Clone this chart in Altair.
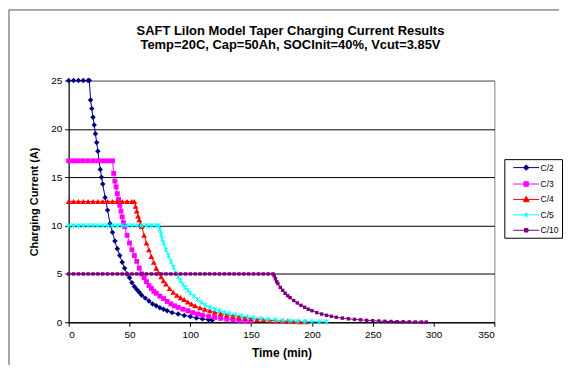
import altair as alt
import pandas as pd

series_names = ["C/2", "C/3", "C/4", "C/5", "C/10"]
series_colors = ["#000080", "#FF00FF", "#FF0000", "#00FFFF", "#800080"]

# C/2
t_c2 = [0, 4, 8, 12, 16, 17, 18, 19, 20, 21, 22, 23, 24, 25, 26, 27, 28, 30, 32, 34, 36, 38, 40,
        42, 44, 46, 48, 50, 52, 54, 56, 58, 60, 63, 66, 69, 72, 75, 78, 81, 85, 90, 95, 100,
        105, 110, 115, 118]
i_c2 = [25, 25, 25, 25, 25, 25, 23.0, 22.1, 21.2, 20.4, 19.5, 18.6, 17.7, 16.7, 15.8, 15.0, 14.3,
        12.9, 11.6, 10.2, 9.3, 8.4, 7.6, 6.9, 6.2, 5.6, 5.0, 4.6, 4.1, 3.7, 3.4, 3.1, 2.8, 2.5,
        2.2, 1.9, 1.7, 1.5, 1.35, 1.2, 1.0, 0.85, 0.7, 0.6, 0.45, 0.35, 0.25, 0.2]

# C/3
t_c3 = [0, 4, 8, 12, 16, 20, 24, 28, 32, 36, 37, 38, 39, 40, 41, 42, 43, 44, 45, 46, 48, 50, 52,
        54, 56, 58, 60, 62, 64, 66, 68, 70, 72, 75, 78, 81, 84, 87, 90, 94, 98, 102, 106, 110,
        115, 120, 125, 130, 135, 140, 145, 150]
i_c3 = [16.7, 16.7, 16.7, 16.7, 16.7, 16.7, 16.7, 16.7, 16.7, 16.7, 15.4, 14.6, 14.0, 13.3, 12.7,
        12.1, 11.5, 10.9, 10.3, 9.9, 9.0, 8.2, 7.5, 6.9, 6.3, 5.6, 5.0, 4.6, 4.2, 3.8, 3.5, 3.2,
        3.0, 2.7, 2.45, 2.15, 1.9, 1.7, 1.55, 1.35, 1.2, 1.0, 0.85, 0.75, 0.6, 0.5, 0.4, 0.32,
        0.25, 0.2, 0.15, 0.12]

# C/4
t_c4 = [0, 4, 8, 12, 16, 20, 24, 28, 32, 36, 40, 44, 48, 52, 54, 55, 56, 57, 58, 59, 60, 62, 64,
        66, 68, 70, 72, 74, 76, 78, 80, 83, 86, 89, 92, 95, 98, 101, 104, 108, 112, 116, 120,
        125, 130, 135, 140, 145, 150, 155, 160, 165, 170, 175, 180, 185, 190, 195]
i_c4 = [12.5, 12.5, 12.5, 12.5, 12.5, 12.5, 12.5, 12.5, 12.5, 12.5, 12.5, 12.5, 12.5, 12.5, 12.5,
        12.0, 11.5, 11.0, 10.6, 10.2, 9.9, 9.0, 8.2, 7.5, 6.8, 6.2, 5.6, 5.1, 4.7, 4.3, 3.95,
        3.5, 3.1, 2.8, 2.55, 2.35, 2.1, 1.9, 1.7, 1.5, 1.35, 1.2, 1.05, 0.9, 0.75, 0.65, 0.55,
        0.45, 0.38, 0.3, 0.25, 0.2, 0.16, 0.13, 0.1, 0.08, 0.06, 0.05]

# C/5
t_c5 = [0, 4, 8, 12, 16, 20, 24, 28, 32, 36, 40, 44, 48, 52, 56, 60, 64, 68, 72, 74, 75, 76, 77,
        78, 80, 82, 84, 86, 88, 90, 92, 94, 96, 98, 100, 103, 106, 109, 112, 116, 120, 124, 128,
        132, 137, 142, 147, 152, 158, 164, 170, 176, 182, 188, 194, 200, 206, 212]
i_c5 = [10, 10, 10, 10, 10, 10, 10, 10, 10, 10, 10, 10, 10, 10, 10, 10, 10, 10, 10, 10, 9.6, 9.1,
        8.6, 8.2, 7.5, 6.9, 6.3, 5.7, 5.1, 4.7, 4.3, 3.9, 3.6, 3.3, 3.0, 2.7, 2.35, 2.05, 1.8,
        1.55, 1.35, 1.2, 1.0, 0.9, 0.75, 0.65, 0.55, 0.45, 0.38, 0.3, 0.24, 0.19, 0.15, 0.12,
        0.1, 0.08, 0.06, 0.05]

# C/10
t_c10 = [0, 4, 8, 12, 16, 20, 24, 28, 32, 36, 40, 44, 48, 52, 56, 60, 64, 68, 72, 76, 80, 84, 88,
         92, 96, 100, 104, 108, 112, 116, 120, 124, 128, 132, 136, 140, 144, 148, 152, 156, 160,
         164, 168, 169, 170, 171, 172, 174, 176, 178, 180, 182, 185, 188, 191, 194, 197, 200,
         204, 208, 212, 216, 220, 225, 230, 235, 240, 245, 250, 255, 260, 265, 270, 275, 280,
         285, 290, 294]
i_c10 = [5, 5, 5, 5, 5, 5, 5, 5, 5, 5, 5, 5, 5, 5, 5, 5, 5, 5, 5, 5, 5, 5, 5, 5, 5, 5, 5, 5, 5, 5,
         5, 5, 5, 5, 5, 5, 5, 5, 5, 5, 5, 5, 5, 4.8, 4.5, 4.2, 4.0, 3.6, 3.3, 3.0, 2.75, 2.55,
         2.25, 2.0, 1.75, 1.55, 1.35, 1.2, 1.0, 0.85, 0.72, 0.62, 0.52, 0.43, 0.36, 0.3, 0.25,
         0.2, 0.16, 0.13, 0.1, 0.08, 0.06, 0.05, 0.04, 0.03, 0.02, 0.02]

x_ticks = [0, 50, 100, 150, 200, 250, 300, 350]
y_ticks = [0, 5, 10, 15, 20, 25]
title_lines = ["SAFT LiIon Model Taper Charging Current Results",
               "Temp=20C, Cap=50Ah, SOCInit=40%, Vcut=3.85V"]

series_t = [t_c2, t_c3, t_c4, t_c5, t_c10]
series_i = [i_c2, i_c3, i_c4, i_c5, i_c10]

rows = []
for name, ts, cs in zip(series_names, series_t, series_i):
    for t, c in zip(ts, cs):
        rows.append({"series": name, "t": t, "current": c})
df = pd.DataFrame(rows)

STAR = "M-1,-1L1,1M1,-1L-1,1M0,-1.2V1.2"
marker_shapes = ["diamond", "square", "triangle-up", STAR, "square"]
marker_sizes = [30, 24, 34, 20, 12]
marker_filled = [True, True, True, False, True]

legend_paths = [
    "M-2.6,0H2.6M0,-0.55L0.55,0L0,0.55L-0.55,0Z",
    "M-2.6,0H2.6M-0.45,-0.45H0.45V0.45H-0.45Z",
    "M-2.6,0H2.6M0,-0.6L0.6,0.45H-0.6Z",
    "M-2.6,0H2.6M0,-0.5V0.5M-0.35,-0.35L0.35,0.35M0.35,-0.35L-0.35,0.35",
    "M-2.6,0H2.6M-0.35,-0.35H0.35V0.35H-0.35Z",
]

FONT = "Liberation Sans, Arial"

x_enc = alt.X("t:Q", scale=alt.Scale(domain=[0, 350], nice=False, zero=False),
              axis=alt.Axis(values=x_ticks, title="Time (min)", grid=False, format="d"))
y_enc = alt.Y("current:Q", scale=alt.Scale(domain=[0, 25], nice=False),
              axis=alt.Axis(values=y_ticks, title="Charging Current (A)", grid=True, format="d",
                            gridColor={"condition": {"test": "datum.value >= 25", "value": "#808080"},
                                       "value": "#000000"}))

layers = []
for k, name in enumerate(series_names):
    base = alt.Chart(df).transform_filter(alt.datum.series == name)
    line = base.mark_line(color=series_colors[k], strokeWidth=1).encode(x=x_enc, y=y_enc)
    pts = base.mark_point(shape=marker_shapes[k], size=marker_sizes[k], filled=marker_filled[k],
                          color=series_colors[k], opacity=1, strokeWidth=1).encode(x=x_enc, y=y_enc)
    layers += [line, pts]

leg = alt.Legend(title=None, orient="none", legendX=438, legendY=79, direction="vertical",
                 strokeColor="#000000", fillColor="#FFFFFF", padding=3,
                 symbolSize=100, symbolStrokeWidth=1, symbolOpacity=1,
                 symbolOffset=13.5, labelOffset=9, rowPadding=5.5,
                 labelFont=FONT, labelFontSize=8.5, labelColor="#000000", labelLimit=40)

legend_layer = alt.Chart(df).transform_filter("datum.t < -1000").mark_point(
    size=100, strokeWidth=1, opacity=1).encode(
    x=x_enc, y=y_enc,
    fill=alt.Fill("series:N", scale=alt.Scale(domain=series_names, range=series_colors), legend=leg),
    stroke=alt.Stroke("series:N", scale=alt.Scale(domain=series_names, range=series_colors), legend=leg),
    shape=alt.Shape("series:N", scale=alt.Scale(domain=series_names, range=legend_paths), legend=leg),
)

frame_df = pd.DataFrame({"k": [0]})
frame_top = alt.Chart(frame_df).mark_rule(color="#505050", strokeWidth=1).encode(
    x=alt.value(-60), x2=alt.value(493), y=alt.value(-71))
frame_left = alt.Chart(frame_df).mark_rule(color="#505050", strokeWidth=1).encode(
    x=alt.value(-60), y=alt.value(-71), y2=alt.value(286))

title1 = alt.Chart(frame_df).mark_text(font=FONT, fontSize=13, fontWeight="bold", color="#000000",
                                       align="center", baseline="middle").encode(
    x=alt.value(223), y=alt.value(-49.5), text=alt.value(title_lines[0]))
title2 = alt.Chart(frame_df).mark_text(font=FONT, fontSize=13, fontWeight="bold", color="#000000",
                                       align="center", baseline="middle").encode(
    x=alt.value(223), y=alt.value(-35.5), text=alt.value(title_lines[1]))

chart = alt.layer(*layers, legend_layer, frame_top, frame_left, title1, title2).properties(
    width=428, height=243, padding=0,
).configure_view(stroke="#808080", strokeWidth=1).configure_axis(
    domainColor="#000000", tickColor="#000000", tickSize=4, labelPadding=3,
    labelFont=FONT, labelFontSize=10, labelColor="#000000",
    titleFont=FONT, titleFontSize=12, titleFontWeight="bold", titleColor="#000000",
    gridWidth=1, gridOpacity=1,
).configure_axisY(titleFont="Liberation Sans Narrow, Liberation Sans", titleFontSize=11,
                  titlePadding=11
).configure_axisX(titlePadding=8)

chart.save("out.html", embed_options={"renderer": "svg", "actions": False})
